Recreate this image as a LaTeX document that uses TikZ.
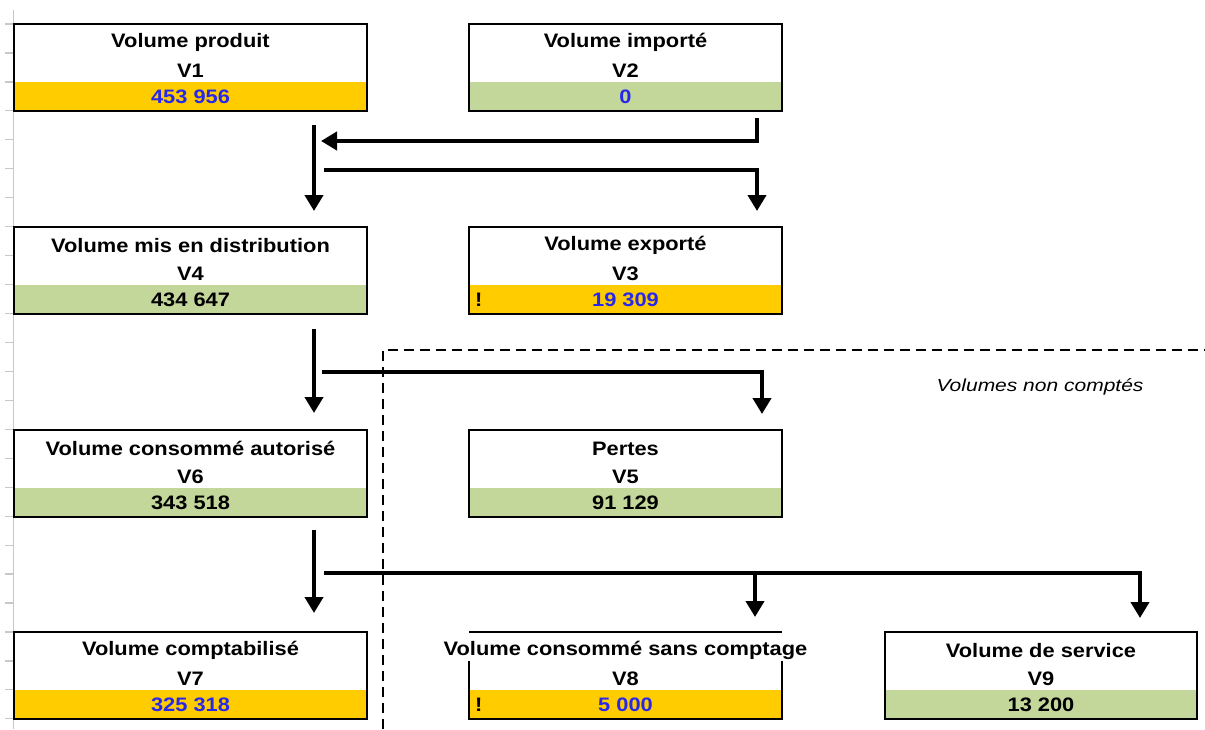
\documentclass[tikz,border=0pt]{standalone}
\usepackage{fontspec}
\setmainfont{Liberation Sans}[FakeStretch=1.12]
\newfontfamily\notefont{Liberation Sans}[FakeStretch=1.2]
\usetikzlibrary{arrows.meta,calc}
\definecolor{cellyellow}{RGB}{255,204,0}
\definecolor{cellgreen}{RGB}{196,215,155}
\definecolor{valblue}{RGB}{40,40,235}
\definecolor{gridgray}{RGB}{200,200,200}
\tikzset{
  volframe/.style={draw=none, inner sep=0pt, outer sep=0pt, minimum height=87pt},
  boxborder/.style={draw=black, line width=2.8pt},
  thinborder/.style={draw=black, line width=1.8pt},
  txt/.style={inner sep=0pt, font=\fontsize{19.5}{22}\selectfont\bfseries},
  flow/.style={line width=4.4pt, -{Triangle[width=18pt,length=16pt]}},
  region/.style={line width=2.8pt, dash pattern=on 10pt off 6pt},
  note/.style={inner sep=0pt, font=\notefont\fontsize{17.5}{20}\selectfont\itshape},
  grid/.style={draw=gridgray, line width=1.2pt}
}
% #1 name, #2 left, #3 top, #4 width, #5 title, #6 id, #7 value, #8 fill, #9 value colour
\newcommand\volbox[9]{%
  \node[volframe, minimum width=#4pt, anchor=north west] (#1) at (#2,#3) {};
  \fill[#8] ($(#1.south west)+(0,-29)$) rectangle (#1.south east);
  \node[txt] (#1-title) at ($(#1.north)+(0,18.5)$) {#5};
  \node[txt] (#1-id) at ($(#1.north)+(0,46.5)$) {#6};
  \node[txt, text=#9] (#1-val) at ($(#1.south)+(0,-14.5)$) {#7};
}
\begin{document}
\begin{tikzpicture}[x=1pt,y=-1pt]
\useasboundingbox (0,0) rectangle (1205,729);
\fill[white] (0,0) rectangle (1205,729);
% spreadsheet row gridline on the left
\draw[grid] (13.5,10) -- (13.5,729);
\foreach \k in {0,...,24} \draw[grid] (5,24+28.95*\k) -- (13.5,24+28.95*\k);

% boxes
\volbox{V1}{14}{24}{353}{Volume produit}{V1}{453 956}{cellyellow}{valblue}
\volbox{V2}{469}{24}{313}{Volume importé}{V2}{0}{cellgreen}{valblue}
\volbox{V4}{14}{227}{353}{Volume mis en distribution}{V4}{434 647}{cellgreen}{black}
\volbox{V3}{469}{227}{313}{Volume exporté}{V3}{19 309}{cellyellow}{valblue}
\volbox{V6}{14}{430}{353}{Volume consommé autorisé}{V6}{343 518}{cellgreen}{black}
\volbox{V5}{469}{430}{313}{Pertes}{V5}{91 129}{cellgreen}{black}
\volbox{V7}{14}{632}{353}{Volume comptabilisé}{V7}{325 318}{cellyellow}{valblue}
\volbox{V8}{469}{632}{313}{Volume consommé sans comptage}{V8}{5 000}{cellyellow}{valblue}
\volbox{V9}{885}{632}{312}{Volume de service}{V9}{13 200}{cellgreen}{black}

\foreach \b in {V1,V2,V4,V3,V6,V5,V7,V9}
  \draw[boxborder] (\b.south west) rectangle (\b.north east);
\draw[thinborder] (V8.north west) -- (V8.north east);
\draw[boxborder] ($(V8.north west)+(0,29)$) -- (V8.south west) -- (V8.south east) -- ($(V8.north east)+(0,29)$);

% warning marks
\node[txt, anchor=west] (w3) at ($(V3.south west)+(6,-14.5)$) {!};
\node[txt, anchor=west] (w8) at ($(V8.south west)+(6,-14.5)$) {!};

% connectors
\coordinate (a0) at ($(V2.south west)+(288,7)$);
\coordinate (a1) at (321,141);
\coordinate (b0) at ($(V1.south west)+(300,14)$);
\coordinate (b1) at ($(V4.north west)+(300,-16)$);
\coordinate (c0) at (324,170);
\coordinate (c1) at ($(V3.north west)+(288,-16)$);
\draw[flow] (a0) |- (a1);
\draw[flow] (b0) -- (b1);
\draw[flow] (c0) -| (c1);

\coordinate (d0) at ($(V4.south west)+(300,15)$);
\coordinate (d1) at ($(V6.north west)+(300,-17)$);
\coordinate (e0) at (322,372);
\coordinate (e1) at ($(V5.north west)+(293,-16)$);
\draw[flow] (d0) -- (d1);
\draw[flow] (e0) -| (e1);

\coordinate (f0) at ($(V6.south west)+(300,13)$);
\coordinate (f1) at ($(V7.north west)+(300,-19)$);
\coordinate (g0) at (324,573);
\coordinate (g1) at ($(V9.north west)+(255,-14)$);
\coordinate (g2) at (755,573);
\coordinate (g3) at ($(V8.north west)+(286,-15)$);
\draw[flow] (f0) -- (f1);
\draw[flow] (g0) -| (g1);
\draw[flow] (g2) -- (g3);

% region of non-metered volumes
\coordinate (r0) at (383,729);
\coordinate (r1) at (383,350);
\coordinate (r2) at (1205,350);
\draw[region] (r0) -- (r1) -- (r2);
\node[note] (nc) at (1040,387) {Volumes non comptés};
\end{tikzpicture}
\end{document}
